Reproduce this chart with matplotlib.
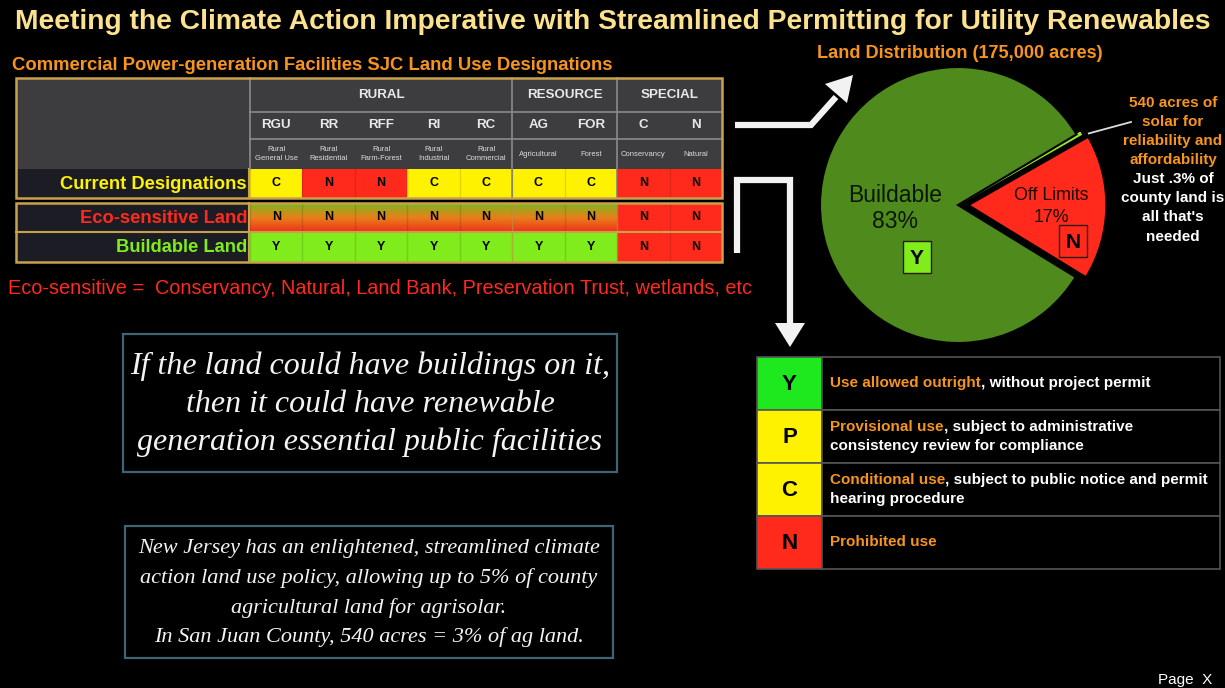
import numpy as np
import matplotlib.pyplot as plt
from matplotlib.patches import Rectangle, Polygon
from matplotlib.colors import LinearSegmentedColormap

plt.rcParams["font.family"] = ["Liberation Sans", "DejaVu Sans"]

W, H = 1225, 688

title = "Meeting the Climate Action Imperative with Streamlined Permitting for Utility Renewables"
table_title = "Commercial Power-generation Facilities SJC Land Use Designations"

groups = ["RURAL", "RESOURCE", "SPECIAL"]
group_sizes = [5, 2, 2]
codes = ["RGU", "RR", "RFF", "RI", "RC", "AG", "FOR", "C", "N"]
descriptions = ["Rural\nGeneral Use", "Rural\nResidential", "Rural\nFarm-Forest", "Rural\nIndustrial",
                "Rural\nCommercial", "Agricultural", "Forest", "Conservancy", "Natural"]
row_names = ["Current Designations", "Eco-sensitive Land", "Buildable Land"]
current = ["C", "N", "N", "C", "C", "C", "C", "N", "N"]
eco_sensitive = ["N", "N", "N", "N", "N", "N", "N", "N", "N"]
buildable = ["Y", "Y", "Y", "Y", "Y", "Y", "Y", "N", "N"]
eco_note = "Eco-sensitive =  Conservancy, Natural, Land Bank, Preservation Trust, wetlands, etc"

pie_title = "Land Distribution (175,000 acres)"
pie_labels = ["Off Limits", "Solar", "Buildable"]
pie_values = [17, 0.3, 82.7]
pie_codes = ["N", None, "Y"]
solar_note = ["540 acres of", "solar for", "reliability and", "affordability"]
share_note = ["Just .3% of", "county land is", "all that's", "needed"]

quote_lines = ["If the land could have buildings on it,", "then it could have renewable",
               "generation essential public facilities"]
nj_lines = ["New Jersey has an enlightened, streamlined climate",
            "action land use policy, allowing up to 5% of county",
            "agricultural land for agrisolar.",
            "In San Juan County, 540 acres = 3% of ag land."]

legend_codes = ["Y", "P", "C", "N"]
legend_bold = ["Use allowed outright", "Provisional use", "Conditional use", "Prohibited use"]
legend_rest = [[", without project permit"],
               [", subject to administrative", "consistency review for compliance"],
               [", subject to public notice and permit", "hearing procedure"],
               [""]]

YELLOW = "#fff200"
RED = "#ff2a1c"
LIME = "#80ec1c"
ORANGE = "#f7941d"
GOLD = "#c9a04c"
code_color = {"Y": LIME, "C": YELLOW, "P": YELLOW, "N": RED}
label_color = [YELLOW, "#ff2a1c", LIME]

fig = plt.figure(figsize=(W / 100, H / 100), dpi=100, facecolor="black")

# ---- pie (drawn first, overlay axes goes on top)
cx, cy, R = 958, 205, 138
half = 1.3 * R
pax = fig.add_axes([(cx - half) / W, (H - cy - half) / H, 2 * half / W, 2 * half / H])
wedges, _ = pax.pie(pie_values, colors=[RED, "#9be82a", "#4f8a1c"], explode=[0.075, 0.03, 0],
                    startangle=-31.5, counterclock=True, radius=1,
                    wedgeprops=dict(edgecolor="black", linewidth=1.5))
wedges[1].set_edgecolor("#9be82a")
wedges[1].set_linewidth(0.8)
pax.set_xlim(-1.3, 1.3)
pax.set_ylim(-1.3, 1.3)
pax.set_aspect("equal")
pax.axis("off")

ax = fig.add_axes([0, 0, 1, 1])
ax.set_xlim(0, W)
ax.set_ylim(H, 0)
ax.axis("off")

ax.text(613, 22, title, color="#fce28f", fontsize=20.3, fontweight="bold", ha="center", va="center")
ax.text(12, 66, table_title, color=ORANGE, fontsize=13.3, fontweight="bold", ha="left", va="center")

# ---- land use table
x0, lx0 = 250, 16
cw = (722 - 250) / len(codes)
hdr = [78, 112, 139, 169]
rows = [(169, 198), (203, 232), (232, 262)]
HDR_BG = "#3d3d40"
HDR_LINE = "#8a8a8a"

ax.add_patch(Rectangle((lx0, hdr[0]), x0 - lx0, hdr[3] - hdr[0], facecolor=HDR_BG, edgecolor="none"))
ax.add_patch(Rectangle((x0, hdr[0]), cw * len(codes), hdr[3] - hdr[0], facecolor=HDR_BG, edgecolor="none"))
start = 0
for g, n in zip(groups, group_sizes):
    gx = x0 + start * cw
    ax.text(gx + n * cw / 2, (hdr[0] + hdr[1]) / 2, g, color="#e8e8e8", fontsize=9.6,
            fontweight="bold", ha="center", va="center")
    if start > 0:
        ax.plot([gx, gx], [hdr[0], rows[0][1]], color=HDR_LINE, lw=1.2)
    start += n
ax.plot([x0, x0 + cw * 9], [hdr[1], hdr[1]], color=HDR_LINE, lw=1.2)
ax.plot([x0, x0 + cw * 9], [hdr[2], hdr[2]], color=HDR_LINE, lw=1.2)
ax.plot([x0, x0], [hdr[0], hdr[3]], color=HDR_LINE, lw=1.2)

for i, (c, d) in enumerate(zip(codes, descriptions)):
    xc = x0 + (i + 0.5) * cw
    ax.text(xc, (hdr[1] + hdr[2]) / 2, c, color="#e8e8e8", fontsize=9.6, fontweight="bold",
            ha="center", va="center")
    ax.text(xc, (hdr[2] + hdr[3]) / 2, d, color="#dcdcdc", fontsize=5.5, ha="center",
            va="center", linespacing=1.25)

eco_cmap = LinearSegmentedColormap.from_list("eco", ["#78b81e", "#e8801a", "#f0321a"])
grad = np.linspace(0, 1, 64).reshape(-1, 1)
for r, (vals, (y0, y1)) in enumerate(zip([current, eco_sensitive, buildable], rows)):
    ax.add_patch(Rectangle((lx0, y0), x0 - lx0, y1 - y0, facecolor="#1c1d24", edgecolor="none"))
    ax.text(x0 - 3, (y0 + y1) / 2 + 1, row_names[r], color=label_color[r], fontsize=13.2,
            fontweight="bold", ha="right", va="center")
    for i, v in enumerate(vals):
        xa = x0 + i * cw
        if r == 1 and buildable[i] == "Y":
            ax.imshow(grad, cmap=eco_cmap, extent=(xa, xa + cw, y1, y0), aspect="auto", zorder=1)
        else:
            ax.add_patch(Rectangle((xa, y0), cw, y1 - y0, facecolor=code_color[v], edgecolor="none", zorder=1))
        ax.plot([xa, xa], [y0, y1], color="#000000", alpha=0.12, lw=1, zorder=2)
        ax.text(xa + cw / 2, (y0 + y1) / 2, v, color="black", fontsize=9, fontweight="bold",
                ha="center", va="center", zorder=3)

# gold frames
for (ya, yb) in [(hdr[0], rows[0][1]), (rows[1][0], rows[2][1])]:
    ax.add_patch(Rectangle((lx0, ya), 722 - lx0, yb - ya, facecolor="none", edgecolor=GOLD, lw=1.8, zorder=4))
for (ya, yb) in [(rows[0][0], rows[0][1]), (rows[1][0], rows[2][1])]:
    ax.plot([x0 - 1, x0 - 1], [ya, yb], color=GOLD, lw=1.5, zorder=4)
ax.plot([lx0, 722], [rows[2][0], rows[2][0]], color=GOLD, lw=1.5, zorder=4)
for gx in [x0 + 5 * cw, x0 + 7 * cw]:
    ax.plot([gx, gx], [rows[1][0], rows[2][1]], color=GOLD, lw=1.0, alpha=0.6, zorder=4)

ax.text(8, 288, eco_note, color=RED, fontsize=14.3, ha="left", va="center")

# ---- quote boxes
ax.add_patch(Rectangle((123, 334), 494, 138, facecolor="black", edgecolor="#3f6474", lw=1.6))
for k, line in enumerate(quote_lines):
    ax.text(370, 366 + k * 38, line, color="#f4f4f4", fontsize=23, fontstyle="italic",
            family="Liberation Serif", ha="center", va="center")
ax.add_patch(Rectangle((125, 526), 488, 132, facecolor="black", edgecolor="#3f6474", lw=1.6))
for k, line in enumerate(nj_lines):
    ax.text(369, 549 + k * 29.5, line, color="#f4f4f4", fontsize=16, fontstyle="italic",
            family="Liberation Serif", ha="center", va="center")

# ---- pie annotations
ax.text(960, 54, pie_title, color=ORANGE, fontsize=13.1, fontweight="bold", ha="center", va="center")
ax.text(895, 195, pie_labels[2], color="#0c1606", fontsize=16.5, ha="center", va="center")
ax.text(895, 222, f"{round(pie_values[2])}%", color="#0c1606", fontsize=16.5, ha="center", va="center")
ax.text(1051, 196, pie_labels[0], color="#1a0805", fontsize=12.8, ha="center", va="center")
ax.text(1051, 217, f"{round(pie_values[0])}%", color="#1a0805", fontsize=12.8, ha="center", va="center")
for (bx, by, code) in [(917, 257, pie_codes[2]), (1073, 241, pie_codes[0])]:
    ax.add_patch(Rectangle((bx - 14, by - 16), 28, 32, facecolor=code_color[code],
                           edgecolor="#2a1a10", lw=1.0, zorder=5))
    ax.text(bx, by + 1, code, color="black", fontsize=15, fontweight="bold", ha="center",
            va="center", zorder=6)

th = np.deg2rad((wedges[1].theta1 + wedges[1].theta2) / 2)
tx = cx + R * 1.03 * np.cos(th) + 4
ty = cy - R * 1.03 * np.sin(th)
ax.plot([tx + 4, 1131], [ty, 122], color="#dddddd", lw=1.3)
for k, line in enumerate(solar_note):
    ax.text(1173, 103 + k * 19, line, color=ORANGE, fontsize=11, fontweight="bold", ha="center", va="center")
for k, line in enumerate(share_note):
    ax.text(1173, 179 + k * 19.2, line, color="white", fontsize=11, fontweight="bold", ha="center", va="center")

# ---- chalk arrows
chalk = dict(color="#f2f2f2", lw=4.5, solid_capstyle="butt", solid_joinstyle="miter")
ax.plot([735, 811, 836], [125, 125, 97], **chalk)
ax.add_patch(Polygon([(825, 84), (853, 75), (847, 103)], closed=True, facecolor="#f2f2f2", edgecolor="none"))
ax.plot([737, 737, 790, 790], [253, 180, 180, 325], **chalk)
ax.add_patch(Polygon([(775, 323), (805, 323), (790, 347)], closed=True, facecolor="#f2f2f2", edgecolor="none"))

# ---- legend table
lx, lw_col, ltop, lrow, lright = 757, 65, 357, 53, 1220
for k, code in enumerate(legend_codes):
    y0 = ltop + k * lrow
    ax.add_patch(Rectangle((lx, y0), lw_col, lrow, facecolor="#1ee81e" if code == "Y" else code_color[code],
                           edgecolor="#555555", lw=1.2))
    ax.add_patch(Rectangle((lx + lw_col, y0), lright - lx - lw_col, lrow, facecolor="black",
                           edgecolor="#555555", lw=1.2))
    ax.text(lx + lw_col / 2, y0 + lrow / 2 + 1, code, color="black", fontsize=16, fontweight="bold",
            ha="center", va="center")
    n = len(legend_rest[k])
    ys = [y0 + lrow / 2] if n == 1 else [y0 + lrow / 2 - 9.5, y0 + lrow / 2 + 9.5]
    t1 = ax.text(830, ys[0], legend_bold[k], color=ORANGE, fontsize=11, fontweight="bold",
                 ha="left", va="center")
    if legend_rest[k][0]:
        ax.annotate(legend_rest[k][0], xy=(1, 0), xycoords=t1, color="white", fontsize=11,
                    fontweight="bold", ha="left", va="bottom")
    if n > 1:
        ax.text(830, ys[1], legend_rest[k][1], color="white", fontsize=11, fontweight="bold",
                ha="left", va="center")

ax.text(1212, 680, "Page  X", color="white", fontsize=11, ha="right", va="center")

fig.savefig("out.png", dpi=100, facecolor="black")
